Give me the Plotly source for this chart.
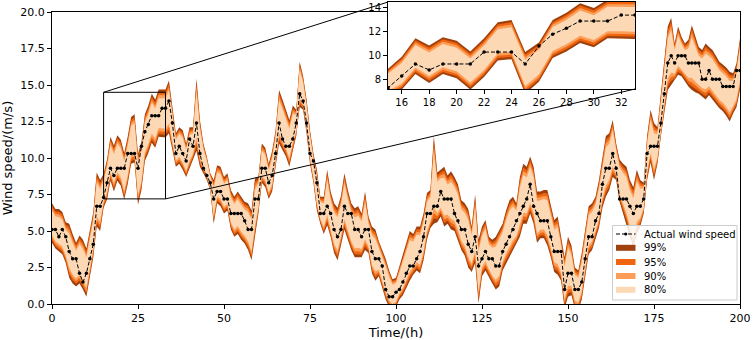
import plotly.graph_objects as go

hours = list(range(201))

actual = [
    5.1, 5.1, 4.6, 5.1, 4.6, 3.6, 3.1, 3.1, 2.1, 1.5, 2.1, 3.1, 4.1, 6.7, 6.7,
    7.3, 8.3, 9.3, 8.8, 9.3, 9.3, 9.3, 10.3, 10.3, 10.3, 9.3, 10.8, 11.8, 12.3, 12.9, 12.9, 12.9, 13.4, 13.4,
    13.9, 12.4, 10.3, 10.8, 10.3, 9.8,
    11.3, 10.8, 12.4, 10.3, 9.3, 8.8, 8.3, 7.2, 7.7, 7.7, 7.2, 7.2, 6.2, 6.2, 6.2, 6.2, 5.7, 5.1, 5.1, 7.2, 7.2,
    9.3, 9.3, 8.3, 8.8, 10.3, 12.4, 11.3, 10.8, 10.8, 11.3, 12.4, 14.4, 13.9, 12.4, 10.3, 9.8, 8.3, 6.2, 6.2,
    6.7, 6.2, 5.1, 4.6, 5.1, 6.7, 6.2, 6.2, 5.1, 5.1, 4.6, 5.1, 5.1, 3.6, 3.1, 3.1, 2.6, 1.0, 0.5, 0.5,
    0.8, 1.0, 1.5, 2.1, 2.6, 2.6, 3.1, 3.6, 4.6, 6.2, 6.2, 6.7, 6.7, 7.7, 7.2, 7.2, 7.2, 6.2, 5.7, 5.1,
    5.1, 4.1, 3.6, 4.6, 2.6, 3.1, 3.6, 3.1, 3.1, 2.6, 2.6, 3.6, 4.1, 4.6, 5.1, 5.7, 6.2, 6.7, 7.2, 8.2, 6.7,
    6.2, 5.7, 5.7, 5.7, 4.6, 3.6, 3.6, 3.6, 1.0, 2.1, 2.1, 1.0, 1.0, 1.5, 3.1, 4.6, 4.6, 5.7, 6.2,
    8.2, 9.3, 9.3, 10.3, 9.3, 7.2, 7.2, 7.2, 6.7, 6.2, 6.7, 6.7, 7.2, 10.3, 10.8, 10.8, 10.8, 12.4, 14.4, 16.5, 17.0,
    16.5, 17.0, 17.0, 17.0, 16.5, 16.5, 16.5, 16.5, 15.4, 15.4, 16.0, 15.4, 15.4, 15.4, 14.9, 14.9, 14.9, 14.9, 16.0, 16.0,
]

upper99 = [
    6.9, 6.5, 6.5, 6.3, 5.6, 5.5, 4.8, 4.2, 4.7, 4.4, 3.8, 5.0, 6.3, 9.0, 8.5,
    8.9, 9.9, 11.45, 10.85, 11.55, 11.25, 10.35, 11.45, 12.8, 13.0, 10.3, 11.1, 13.0, 13.6, 14.4, 14.0, 14.7, 14.7, 14.7,
    15.3, 13.3, 11.7, 12.1, 11.9, 11.0,
    12.1, 12.1, 15.45, 12.6, 11.0, 10.1, 8.95, 8.5, 9.5, 9.4, 8.7, 8.95, 7.8, 7.35, 7.7, 7.35, 7.0, 6.9, 6.4, 8.6, 8.7,
    11.0, 10.7, 9.6, 10.5, 11.9, 14.65, 14.0, 13.3, 12.6, 13.6, 13.3, 16.6, 15.6, 14.0, 11.9, 10.3, 9.2, 7.35, 7.35,
    9.2, 7.7, 6.9, 6.6, 7.4, 8.95, 7.8, 6.9, 6.55, 6.7, 6.2, 7.7, 6.0, 5.3, 5.1, 4.3, 3.7, 3.1, 2.3, 1.7,
    1.8, 2.6, 3.3, 4.2, 5.0, 4.8, 5.3, 5.3, 6.2, 7.6, 7.8, 11.5, 9.0, 9.2, 9.4, 8.8, 9.1, 8.7, 8.2, 7.1,
    6.9, 6.5, 5.3, 7.5, 4.4, 5.3, 5.75, 4.6, 4.4, 4.6, 5.1, 5.5, 6.4, 7.1, 7.35, 6.9, 8.7, 9.6, 9.4, 10.1, 9.4,
    7.7, 7.7, 7.8, 7.8, 6.7, 5.75, 6.0, 4.6, 3.2, 4.6, 4.0, 2.5, 2.3, 3.5, 5.0, 6.7, 6.9, 7.35, 8.5,
    10.1, 11.5, 11.7, 12.6, 11.0, 9.9, 9.6, 9.4, 8.5, 8.0, 9.2, 8.5, 8.3, 11.5, 13.3, 12.4, 12.1, 14.4, 16.5, 19.0, 19.6,
    17.85, 19.0, 18.3, 17.85, 18.1, 19.1, 18.3, 17.6, 17.4, 17.85, 17.6, 17.4, 17.0, 16.6, 16.4, 16.2, 15.9, 15.8, 16.5, 18.2,
]

lower99 = [
    4.2, 3.8, 3.6, 3.4, 2.8, 1.8, 1.4, 1.2, 1.4, 1.0, 0.5, 1.8, 3.2, 5.3, 5.0,
    6.6, 7.15, 8.45, 7.7, 8.45, 8.1, 7.15, 8.2, 9.6, 9.7, 6.8, 7.8, 9.8, 10.35, 11.05, 10.7, 11.45, 11.45, 11.4,
    11.7, 10.5, 9.4, 9.6, 9.2, 8.7,
    9.3, 9.9, 10.5, 9.4, 9.0, 8.5, 7.8, 5.5, 6.9, 6.7, 6.2, 6.4, 5.1, 4.6, 4.8, 4.4, 4.15, 3.7, 3.0, 4.6, 6.2,
    8.3, 8.0, 7.2, 7.7, 9.4, 11.0, 10.5, 10.1, 9.4, 10.5, 11.5, 13.5, 13.3, 11.7, 9.6, 8.3, 6.4, 5.5, 4.8,
    5.4, 4.6, 3.5, 3.0, 4.0, 5.1, 4.4, 3.7, 3.2, 3.2, 3.2, 3.7, 3.5, 2.1, 1.6, 1.9, 1.2, 0.3, -0.2, -0.4,
    -0.2, 0.3, 0.6, 1.1, 1.6, 2.0, 2.3, 2.1, 3.0, 4.4, 5.2, 5.5, 5.6, 6.0, 5.3, 5.5, 5.1, 5.0, 4.4, 3.7,
    3.3, 2.5, 2.2, 2.8, 0.05, 1.9, 2.3, 1.9, 1.4, 1.0, 1.2, 2.3, 2.8, 3.2, 3.7, 4.15, 4.6, 5.5, 5.5, 6.2, 5.5,
    4.2, 4.5, 4.5, 4.0, 3.2, 2.2, 2.0, 1.6, -0.3, 0.5, 0.6, -0.3, -0.4, 0.3, 1.8, 3.4, 3.7, 4.5, 5.2,
    6.6, 7.35, 7.8, 8.7, 8.5, 7.0, 6.2, 5.5, 4.6, 3.9, 4.8, 5.3, 6.2, 8.5, 9.7, 8.5, 9.6, 11.5, 13.1, 14.65, 15.0,
    15.3, 15.7, 15.6, 15.3, 14.9, 14.65, 14.5, 14.4, 14.2, 14.0, 14.3, 14.0, 13.7, 13.4, 13.2, 12.9, 12.5, 13.05, 13.5, 14.65,
]

band_labels = ["99%", "95%", "90%", "80%"]
band_scale = [1.0, 0.88, 0.76, 0.63]
band_colors = ["#a0410d", "#f0650f", "#fd9e58", "#fdd8b4"]
actual_label = "Actual wind speed"

x_ticks = [0, 25, 50, 75, 100, 125, 150, 175, 200]
y_ticks = [0, 2.5, 5, 7.5, 10, 12.5, 15, 17.5, 20]
inset_x_ticks = [16, 18, 20, 22, 24, 26, 28, 30, 32]
inset_y_ticks = [8, 10, 12, 14]

main_xrange = [0, 200]
main_yrange = [0, 20]
inset_xrange = [15, 33]
inset_yrange = [7.2, 14.5]

W, H = 754, 340
ML, MR, MT, MB = 52, 14, 2, 36
PW, PH = W - ML - MR, H - MT - MB
main_ydom = [0, 292 / PH]
inset_xdom = [(388 - ML) / PW, (635 - ML) / PW]
inset_ydom = [(H - MB - 89) / PH, 1.0]


def px2paper(px, py):
    return (px - ML) / PW, (H - MB - py) / PH


mid = [(u + l) / 2 for u, l in zip(upper99, lower99)]
half = [(u - l) / 2 for u, l in zip(upper99, lower99)]

fig = go.Figure()
for xa, ya in [("x", "y"), ("x2", "y2")]:
    for lab, s, col in zip(band_labels, band_scale, band_colors):
        up = [m + s * h for m, h in zip(mid, half)]
        lo = [m - s * h for m, h in zip(mid, half)]
        fig.add_trace(go.Scatter(
            x=hours + hours[::-1], y=up + lo[::-1], fill="toself", fillcolor=col,
            mode="lines", line=dict(width=0, color=col), name=lab, showlegend=False,
            xaxis=xa, yaxis=ya, hoverinfo="skip"))
    fig.add_trace(go.Scatter(
        x=hours, y=actual, mode="lines+markers", name=actual_label,
        line=dict(color="black", width=1, dash="4px,2px"),
        marker=dict(color="black", size=3.5), showlegend=False,
        xaxis=xa, yaxis=ya))


def to_paper(xv, yv):
    px = (xv - main_xrange[0]) / (main_xrange[1] - main_xrange[0])
    py = main_ydom[0] + (yv - main_yrange[0]) / (main_yrange[1] - main_yrange[0]) * (main_ydom[1] - main_ydom[0])
    return px, py


p1 = to_paper(inset_xrange[0], inset_yrange[1])
p2 = to_paper(inset_xrange[1], inset_yrange[0])

shapes = [
    dict(type="rect", xref="x", yref="y", x0=inset_xrange[0], x1=inset_xrange[1],
         y0=inset_yrange[0], y1=inset_yrange[1], line=dict(color="black", width=1)),
    dict(type="line", xref="paper", yref="paper", x0=p1[0], y0=p1[1],
         x1=inset_xdom[0], y1=inset_ydom[1], line=dict(color="black", width=1)),
    dict(type="line", xref="paper", yref="paper", x0=p2[0], y0=p2[1],
         x1=inset_xdom[1], y1=inset_ydom[0], line=dict(color="black", width=1)),
]
annotations = []

# manual legend (matplotlib style)
lx0, ly0 = px2paper(612.5, 225.5)
lx1, ly1 = px2paper(737, 300)
shapes.append(dict(type="rect", xref="paper", yref="paper", x0=lx0, x1=lx1, y0=ly1, y1=ly0,
                   line=dict(color="#cccccc", width=1), fillcolor="rgba(255,255,255,0.85)"))
sx0, _ = px2paper(616, 0)
sx1, _ = px2paper(635.5, 0)
tx, _ = px2paper(642, 0)
_, ya_ = px2paper(0, 234)
shapes.append(dict(type="line", xref="paper", yref="paper", x0=sx0, x1=sx1, y0=ya_, y1=ya_,
                   line=dict(color="black", width=1, dash="4px,2px")))
cx, _ = px2paper(625.75, 0)
dx = 1.6 / PW
dy = 1.6 / PH
shapes.append(dict(type="circle", xref="paper", yref="paper", x0=cx - dx, x1=cx + dx,
                   y0=ya_ - dy, y1=ya_ + dy, fillcolor="black", line=dict(width=0)))
annotations.append(dict(xref="paper", yref="paper", x=tx, y=ya_, text=actual_label,
                        showarrow=False, xanchor="left", yanchor="middle", font=dict(size=10)))
row_centers = [247.8, 262, 276, 289.8]
for lab, col, rc in zip(band_labels, band_colors, row_centers):
    _, yt = px2paper(0, rc - 3)
    _, yb = px2paper(0, rc + 3)
    shapes.append(dict(type="rect", xref="paper", yref="paper", x0=sx0, x1=sx1, y0=yb, y1=yt,
                       fillcolor=col, line=dict(width=0)))
    _, yc = px2paper(0, rc)
    annotations.append(dict(xref="paper", yref="paper", x=tx, y=yc, text=lab,
                            showarrow=False, xanchor="left", yanchor="middle", font=dict(size=10)))

axis_common = dict(showline=True, linecolor="black", linewidth=1, mirror=True,
                   ticks="outside", ticklen=4, tickcolor="black", showgrid=False,
                   zeroline=False, automargin=False)

fig.update_layout(
    width=W, height=H,
    margin=dict(l=ML, r=MR, t=MT, b=MB, autoexpand=False),
    paper_bgcolor="white", plot_bgcolor="white",
    font=dict(family="DejaVu Sans", color="black", size=11),
    shapes=shapes, annotations=annotations,
    xaxis=dict(range=main_xrange, tickvals=x_ticks, domain=[0, 1],
               title=dict(text="Time/(h)", font=dict(size=13), standoff=2), **axis_common),
    yaxis=dict(range=main_yrange, tickvals=y_ticks, tickformat=".1f", domain=main_ydom,
               title=dict(text="Wind speed/(m/s)", font=dict(size=13), standoff=4), **axis_common),
    xaxis2=dict(range=inset_xrange, tickvals=inset_x_ticks, domain=inset_xdom, anchor="y2",
                tickfont=dict(size=10), **axis_common),
    yaxis2=dict(range=inset_yrange, tickvals=inset_y_ticks, domain=inset_ydom, anchor="x2",
                tickfont=dict(size=10), **axis_common),
    showlegend=False,
)

fig.write_html("out.html", config={"displayModeBar": False},
               post_script="document.body.style.margin='0px';")
